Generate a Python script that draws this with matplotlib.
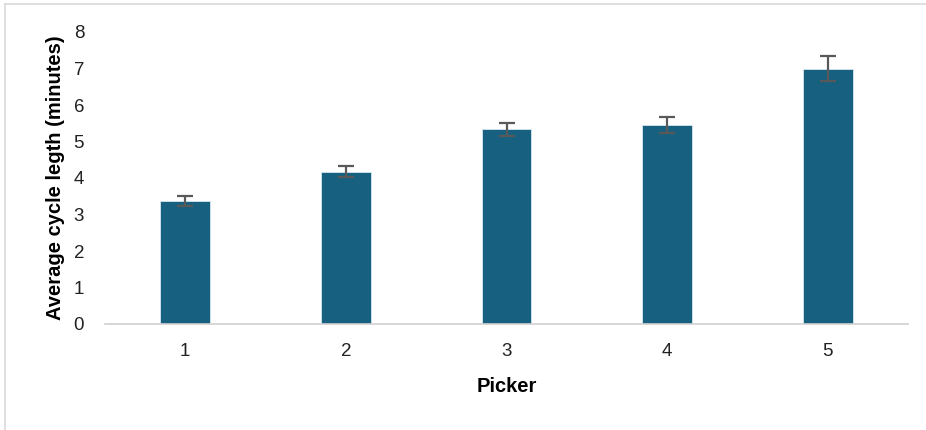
import matplotlib
matplotlib.use('Agg')
import matplotlib.pyplot as plt
from matplotlib.lines import Line2D

plt.rcParams['font.family'] = ['Liberation Sans', 'DejaVu Sans']

pickers = ['1', '2', '3', '4', '5']
avg_cycle = [3.37, 4.17, 5.33, 5.45, 7.0]
err = [0.14, 0.15, 0.19, 0.21, 0.33]

bar_color = '#17607f'
err_color = '#595959'

fig = plt.figure(figsize=(9.26, 4.30), dpi=100)
ax = fig.add_axes([105 / 926, 106 / 430, 803 / 926, 292 / 430])

x = range(len(pickers))
ax.bar(x, avg_cycle, width=0.31, color=bar_color, edgecolor='#d6e6f0', linewidth=0.6,
       yerr=err, error_kw=dict(ecolor=err_color, elinewidth=1.6, capsize=6, capthick=1.6))

ax.set_xlim(-0.5, len(pickers) - 0.5)
ax.set_ylim(0, 8)
ax.set_yticks(range(0, 9))
ax.set_xticks(list(x))
ax.set_xticklabels(pickers)
ax.tick_params(axis='both', length=0, labelsize=13.5, colors='#222222')
ax.tick_params(axis='x', pad=14)
ax.tick_params(axis='y', pad=15)

for s in ['top', 'right', 'left']:
    ax.spines[s].set_visible(False)
ax.spines['bottom'].set_color('#d0d0d0')
ax.spines['bottom'].set_linewidth(1.2)

ax.set_xlabel('Picker', fontsize=14.5, fontweight='bold', labelpad=12)
ax.set_ylabel('Average cycle legth (minutes)', fontsize=14.5, fontweight='bold', labelpad=6)

# light chart-area border (top and left visible)
fig.add_artist(Line2D([5 / 926, 5 / 926], [0, 1 - 4 / 430], transform=fig.transFigure,
                      color='#d9d9d9', linewidth=1.2))
fig.add_artist(Line2D([5 / 926, 1], [1 - 4 / 430, 1 - 4 / 430], transform=fig.transFigure,
                      color='#d9d9d9', linewidth=1.2))

fig.savefig('out.png', dpi=100)
